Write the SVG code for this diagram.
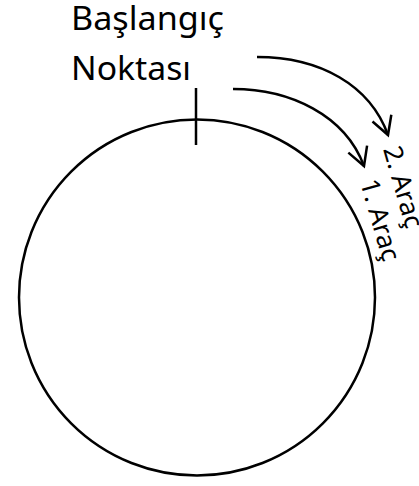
<svg xmlns="http://www.w3.org/2000/svg" width="419" height="486" viewBox="0 0 419 486">
<style>
.ln{fill:none;stroke:#000;stroke-width:2.5}
.t{font-family:"Noto Sans","Open Sans","Liberation Sans",sans-serif;fill:#000}
.big{font-size:33px}
.sm{font-size:26px}
</style>
<defs>
<marker id="ah" markerUnits="userSpaceOnUse" markerWidth="30" markerHeight="30" viewBox="-22 -15 26 30" refX="0" refY="0" orient="auto">
<path d="M-18,-10 L0,0 L-18,10" fill="none" stroke="#000" stroke-width="2.5"/>
</marker>
</defs>
<rect width="419" height="486" fill="#fff"/>
<g id="circle">
<circle class="ln" cx="197" cy="297.5" r="178"/>
<line class="ln" x1="196" y1="88" x2="196" y2="145"/>
</g>
<g id="start-label">
<text class="t big" x="71" y="30" textLength="153" lengthAdjust="spacingAndGlyphs">Başlangıç</text>
<text class="t big" x="71" y="80" textLength="120" lengthAdjust="spacingAndGlyphs">Noktası</text>
</g>
<g id="connectors">
<path class="ln" d="M257,57 C320,57 370,85 388,135" marker-end="url(#ah)"/>
<path class="ln" d="M233,89 C290,89 345,115 364,166" marker-end="url(#ah)"/>
</g>
<g id="vehicle2">
<text class="t sm" transform="translate(383,149) rotate(74)" textLength="84" lengthAdjust="spacingAndGlyphs">2. Araç</text>
</g>
<g id="vehicle1">
<text class="t sm" transform="translate(360,182) rotate(74)" textLength="84" lengthAdjust="spacingAndGlyphs">1. Araç</text>
</g>
</svg>
